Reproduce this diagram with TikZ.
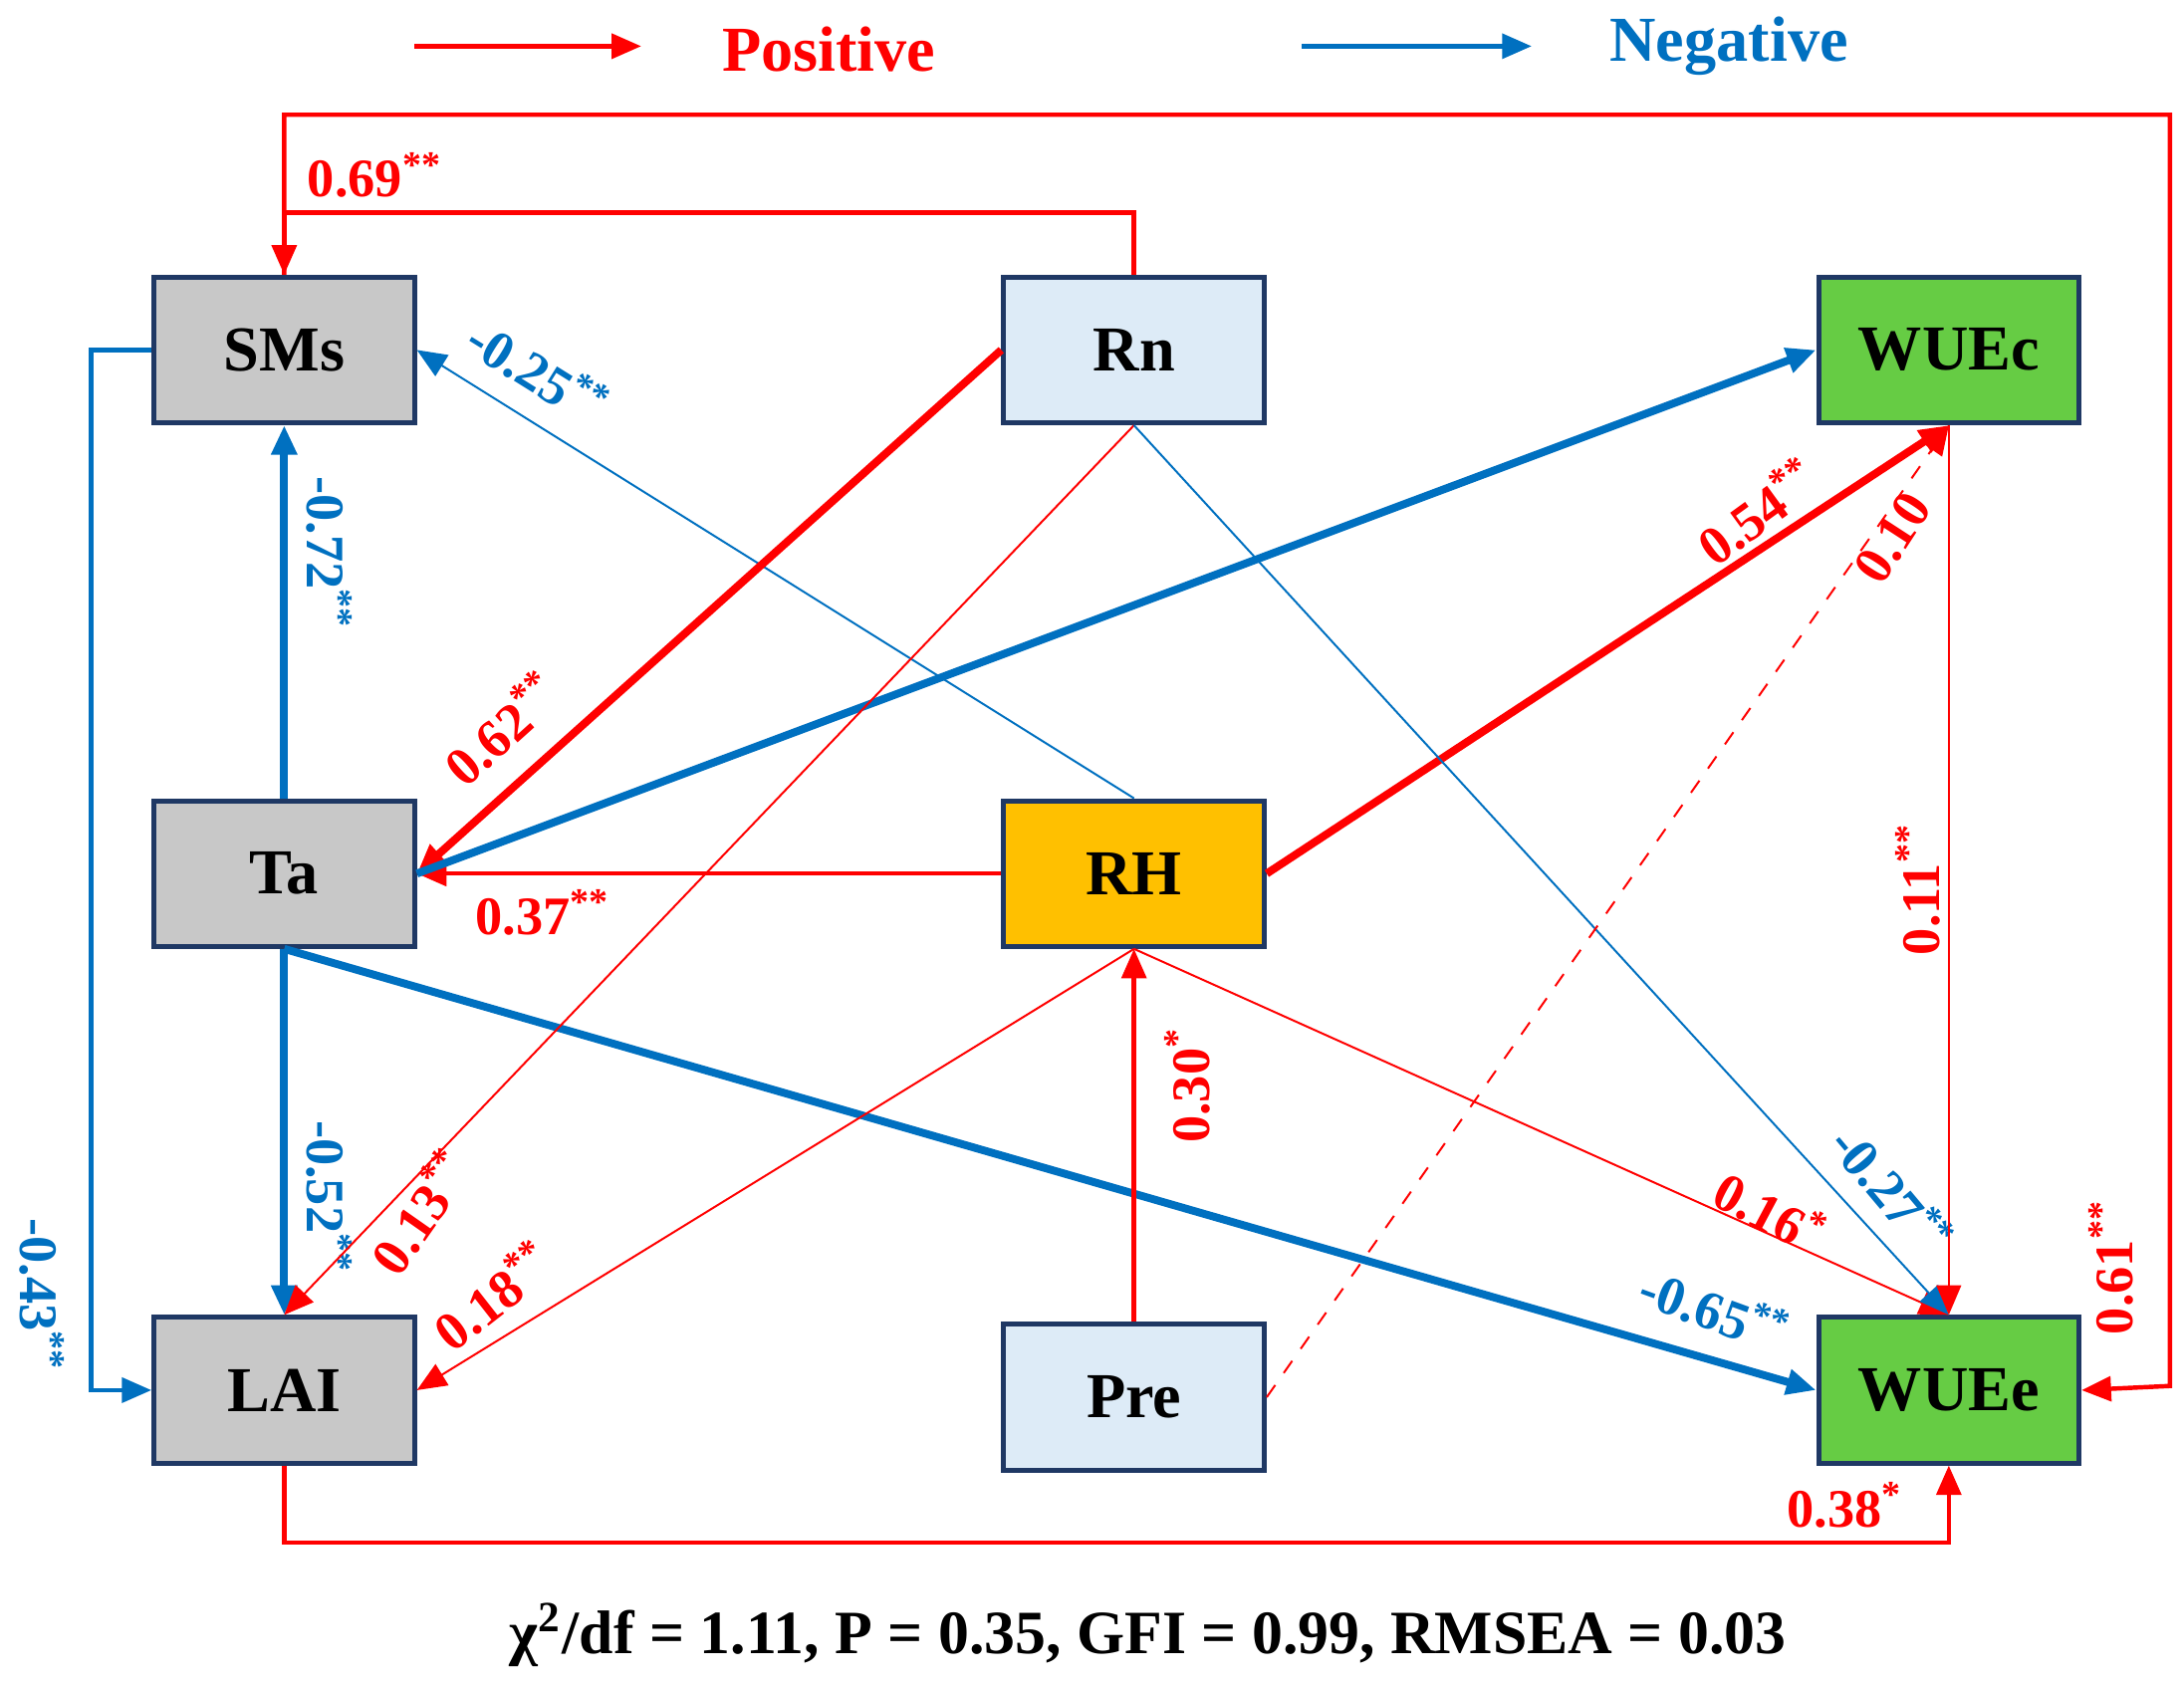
\documentclass[tikz,border=0pt]{standalone}
\usepackage{fontspec}
\setmainfont{Liberation Serif}
\usetikzlibrary{arrows.meta}
\definecolor{pr}{RGB}{255,0,0}
\definecolor{pb}{RGB}{0,112,192}
\definecolor{bd}{RGB}{31,56,100}
\definecolor{gr}{RGB}{200,200,200}
\definecolor{lb}{RGB}{221,235,247}
\definecolor{og}{RGB}{255,192,0}
\definecolor{gn}{RGB}{102,204,68}
\begin{document}
\begin{tikzpicture}[x=0.01cm,y=-0.01cm,
 box/.style={draw=bd,line width=1pt,minimum width=1.86cm,minimum height=1.04cm,font=\fontsize{13}{15}\selectfont\bfseries,inner sep=0pt},
 ar/.style={-{Triangle[length=6pt,width=5pt]}},
 thk/.style={line width=1.6pt},
 med/.style={line width=0.9pt},
 thn/.style={line width=0.4pt},
 R/.style={draw=pr,color=pr},
 B/.style={draw=pb,color=pb},
 lab/.style={font=\fontsize{11}{13}\selectfont\bfseries,inner sep=0pt}]
\useasboundingbox (0,0) rectangle (1560,1203);
\node[box,fill=gr] (SMs) at (203,250) {SMs};
\node[box,fill=lb] (Rn) at (810,250) {Rn};
\node[box,fill=gn] (WUEc) at (1392,250) {WUEc};
\node[box,fill=gr] (Ta) at (203,624) {Ta};
\node[box,fill=og] (RH) at (810,624) {RH};
\node[box,fill=gr] (LAI) at (203,993) {LAI};
\node[box,fill=lb] (Pre) at (810,998) {Pre};
\node[box,fill=gn] (WUEe) at (1392,993) {WUEe};
% legend
\coordinate (l1) at (296,33); \coordinate (l2) at (458,33);
\coordinate (l3) at (930,33); \coordinate (l4) at (1094,33);
\draw[R,med,ar] (l1) -- (l2);
\draw[B,med,ar] (l3) -- (l4);
\node[lab,color=pr,font=\fontsize{13}{15}\selectfont\bfseries] (pos) at (592,35) {Positive};
\node[lab,color=pb,font=\fontsize{13}{15}\selectfont\bfseries] (neg) at (1235,33) {Negative};
% outer loop
\coordinate (o1) at (203,82); \coordinate (o2) at (1550,82); \coordinate (o3) at (1550,990);
\draw[R,med,ar] (SMs.north) -- (o1) -- (o2) -- (o3) -- (WUEe.east);
\node[lab,color=pr,rotate=90] (t61) at (1508,905) {0.61\textsuperscript{**}};
\coordinate (r1) at (810,152); \coordinate (r2) at (203,152);
\draw[R,med,ar] (Rn.north) -- (r1) -- (r2) -- (SMs.north);
\node[lab,color=pr] (t69) at (268,125) {0.69\textsuperscript{**}};
% SMs -> LAI
\coordinate (s1) at (65,250); \coordinate (s2) at (65,993);
\draw[B,med,ar] (SMs.west) -- (s1) -- (s2) -- (LAI.west);
\node[lab,color=pb,rotate=-90] (t43) at (30,925) {-0.43\textsuperscript{**}};
\draw[B,thk,ar] (Ta.north) -- (SMs.south);
\node[lab,color=pb,rotate=-90] (t72) at (235,395) {-0.72\textsuperscript{**}};
\draw[B,thk,ar] (Ta.south) -- (LAI.north);
\node[lab,color=pb,rotate=-90] (t52) at (235,855) {-0.52\textsuperscript{**}};
\draw[B,thn,ar] (RH.north) -- (SMs.east);
\node[lab,color=pb,rotate=-32] (t25) at (385,265) {-0.25\textsuperscript{**}};
\draw[R,thk,ar] (Rn.west) -- (Ta.east);
\node[lab,color=pr,rotate=42] (t62) at (358,520) {0.62\textsuperscript{**}};
\draw[R,med,ar] (RH.west) -- (Ta.east);
\node[lab,color=pr] (t37) at (388,652) {0.37\textsuperscript{**}};
\draw[B,thk,ar] (Ta.east) -- (WUEc.west);
\draw[B,thk,ar] (Ta.south) -- (WUEe.west);
\node[lab,color=pb,rotate=-20] (t65) at (1225,935) {-0.65\textsuperscript{**}};
\draw[R,thn,ar] (Rn.south) -- (LAI.north);
\node[lab,color=pr,rotate=55] (t13) at (300,865) {0.13\textsuperscript{**}};
\draw[R,thn,ar] (RH.south) -- (LAI.east);
\node[lab,color=pr,rotate=38] (t18) at (352,925) {0.18\textsuperscript{**}};
\draw[R,med,ar] (Pre.north) -- (RH.south);
\node[lab,color=pr,rotate=90] (t30) at (848,775) {0.30\textsuperscript{*}};
\draw[R,thk,ar] (RH.east) -- (WUEc.south);
\node[lab,color=pr,rotate=36] (t54) at (1255,365) {0.54\textsuperscript{**}};
\draw[R,thn,ar] (RH.south) -- (WUEe.north);
\node[lab,color=pr,rotate=-28] (t16) at (1265,865) {0.16\textsuperscript{*}};
\draw[B,thn,ar] (Rn.south) -- (WUEe.north);
\node[lab,color=pb,rotate=-50] (t27) at (1352,850) {-0.27\textsuperscript{**}};
\draw[R,thn,dashed,ar] (Pre.east) -- (WUEc.south);
\node[lab,color=pr,rotate=57] (t10) at (1352,384) {0.10};
\draw[R,thn,ar] (WUEc.south) -- (WUEe.north);
\node[lab,color=pr,rotate=90] (t11) at (1370,635) {0.11\textsuperscript{**}};
\coordinate (b1) at (203,1102); \coordinate (b2) at (1392,1102);
\draw[R,med,ar] (LAI.south) -- (b1) -- (b2) -- (WUEe.south);
\node[lab,color=pr] (t38) at (1318,1075) {0.38\textsuperscript{*}};
\node[lab,font=\fontsize{12.5}{15}\selectfont\bfseries] (fit) at (820,1168) {χ\textsuperscript{2}/df = 1.11, P = 0.35, GFI = 0.99, RMSEA = 0.03};
\end{tikzpicture}
\end{document}
